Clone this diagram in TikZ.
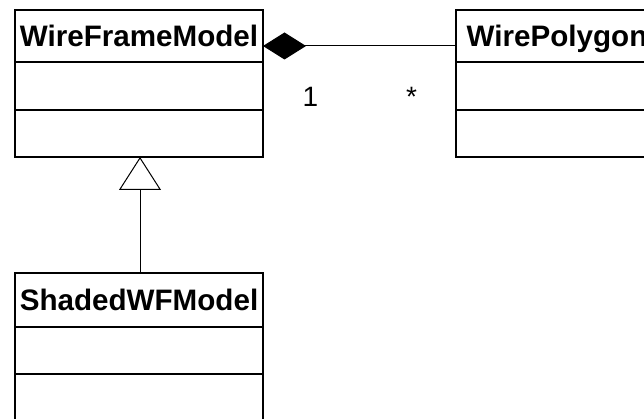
\documentclass[tikz,border=0pt]{standalone}
\usepackage{fontspec}
\setmainfont{Liberation Sans}
\usetikzlibrary{arrows.meta}

\begin{document}
\begin{tikzpicture}[x=1pt, y=-1pt,
  compartment/.style={draw=black, line width=2pt, fill=white, outer sep=0pt,
    inner sep=0pt, anchor=north west, minimum width=#1},
  classname/.style={font=\fontsize{29.6}{32}\selectfont\bfseries, text depth=0pt},
  mult/.style={font=\fontsize{28}{32}\selectfont, anchor=base, inner sep=0pt},
  assoc/.style={draw=black, line width=1pt},
  composition/.style={assoc, {Diamond[length=43pt, width=27pt, fill=black]}-},
  inherit/.style={assoc, -{Triangle[open, length=33pt, width=42pt, fill=white]}}
]
\useasboundingbox (0,0) rectangle (644,419);

% class WireFrameModel
\node[compartment=248, minimum height=52, classname] (wfm) at (15,10) {WireFrameModel};
\node[compartment=248, minimum height=48] (wfmattr) at (wfm.south west) {};
\node[compartment=248, minimum height=47] (wfmops) at (wfmattr.south west) {};

% class WirePolygon (runs past the right edge)
\node[compartment=202, minimum height=52, classname] (wp) at (456,10) {WirePolygon};
\node[compartment=202, minimum height=48] (wpattr) at (wp.south west) {};
\node[compartment=202, minimum height=47] (wpops) at (wpattr.south west) {};

% class ShadedWFModel (runs past the bottom edge)
\node[compartment=248, minimum height=54, classname] (swf) at (15,273) {ShadedWFModel};
\node[compartment=248, minimum height=47] (swfattr) at (swf.south west) {};
\node[compartment=248, minimum height=60] (swfops) at (swfattr.south west) {};

% composition WireFrameModel <>-- WirePolygon
\draw[composition] ([yshift=-10pt]wfm.east) -- ([yshift=-10pt]wp.west);
\node[mult] (m1) at (310.5,107) {1};
\node[mult] (mstar) at (411.5,107) {*};

% generalization ShadedWFModel --|> WireFrameModel
\draw[inherit] ([xshift=1pt]swf.north) -- ([xshift=1pt]wfmops.south);
\end{tikzpicture}
\end{document}
